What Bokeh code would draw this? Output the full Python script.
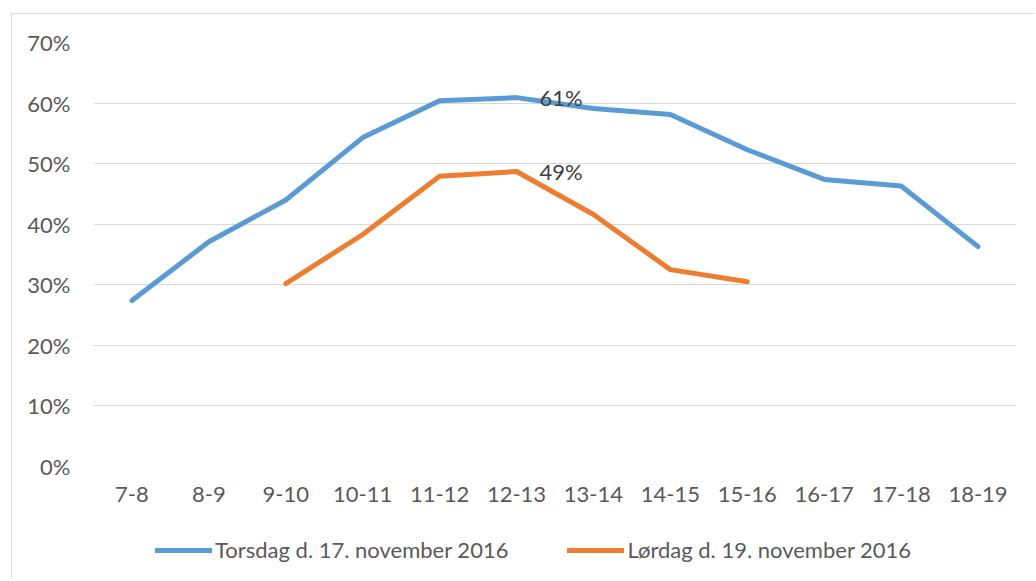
from bokeh.plotting import figure
from bokeh.layouts import column
from bokeh.models import ColumnDataSource, NumeralTickFormatter, Legend, LegendItem, Range1d, FixedTicker
from bokeh.embed import file_html
from bokeh.resources import INLINE
from bokeh.core.properties import value

categories = ["7-8", "8-9", "9-10", "10-11", "11-12", "12-13", "13-14", "14-15", "15-16", "16-17", "17-18", "18-19"]
thursday = [0.274, 0.371, 0.440, 0.543, 0.604, 0.609, 0.591, 0.581, 0.523, 0.474, 0.463, 0.363]
saturday_cats = ["9-10", "10-11", "11-12", "12-13", "13-14", "14-15", "15-16"]
saturday = [0.302, 0.383, 0.479, 0.487, 0.416, 0.325, 0.305]
label_cats = ["12-13", "12-13"]
label_vals = [0.609, 0.487]
label_texts = ["61%", "49%"]
series_names = ["Torsdag d. 17. november 2016", "Lørdag d. 19. november 2016"]

FONT = "Lato"
FS = "22px"
TXT = "#595959"
BLUE = "#5B9BD5"
ORANGE = "#ED7D31"
NAN = float("nan")

p = figure(x_range=categories, frame_width=923, frame_height=424, output_backend="svg",
           toolbar_location=None)
p.y_range = Range1d(0, 0.7)
p.min_border_left = 81
p.min_border_right = 18
p.min_border_top = 28
p.min_border_bottom = 62
p.outline_line_color = None

p.yaxis.ticker = FixedTicker(ticks=[0, 0.1, 0.2, 0.3, 0.4, 0.5, 0.6, 0.7])
p.yaxis.formatter = NumeralTickFormatter(format="0%")
for ax in (p.xaxis[0], p.yaxis[0]):
    ax.axis_line_color = None
    ax.major_tick_line_color = None
    ax.minor_tick_line_color = None
    ax.major_label_text_font = FONT
    ax.major_label_text_font_size = FS
    ax.major_label_text_color = TXT
p.yaxis.major_label_standoff = 17
p.xaxis.major_label_standoff = 14
p.xgrid.grid_line_color = None
p.ygrid.grid_line_color = "#d9d9d9"
p.ygrid.grid_line_width = 1

src1 = ColumnDataSource(dict(x=categories, y=thursday))
src2 = ColumnDataSource(dict(x=saturday_cats, y=saturday))
p.line("x", "y", source=src1, line_color=BLUE, line_width=5, line_join="round", line_cap="round")
p.line("x", "y", source=src2, line_color=ORANGE, line_width=5, line_join="round", line_cap="round")

lsrc = ColumnDataSource(dict(x=label_cats, y=label_vals, t=label_texts))
p.text("x", "y", text="t", source=lsrc, x_offset=23, text_align="left", text_baseline="middle",
       text_font=value(FONT), text_font_size=FS, text_color="#404040")

# legend strip below the chart (proxy renderers hold no visible data)
q = figure(width=1022, height=50, output_backend="svg", toolbar_location=None,
           x_range=Range1d(0, 1), y_range=Range1d(0, 1), min_border=0)
q.axis.visible = False
q.grid.visible = False
q.outline_line_color = None
lr1 = q.line(x=[NAN, NAN], y=[NAN, NAN], line_color=BLUE, line_width=5, line_cap="round")
lr2 = q.line(x=[NAN, NAN], y=[NAN, NAN], line_color=ORANGE, line_width=5, line_cap="round")
legend = Legend(items=[LegendItem(label=series_names[0], renderers=[lr1]),
                       LegendItem(label=series_names[1], renderers=[lr2])],
                orientation="horizontal", location=(62, 15),
                glyph_width=57, glyph_height=26, label_standoff=3, spacing=59,
                label_text_font=FONT, label_text_font_size=FS, label_text_color=TXT,
                border_line_color=None, background_fill_alpha=0, margin=0, padding=0)
q.add_layout(legend, "center")

layout = column(p, q, spacing=0, margin=(13, 0, 0, 11),
                styles={"border-top": "1px solid #d9d9d9", "border-left": "1px solid #d9d9d9"})

open("out.html", "w").write(file_html(layout, INLINE))
